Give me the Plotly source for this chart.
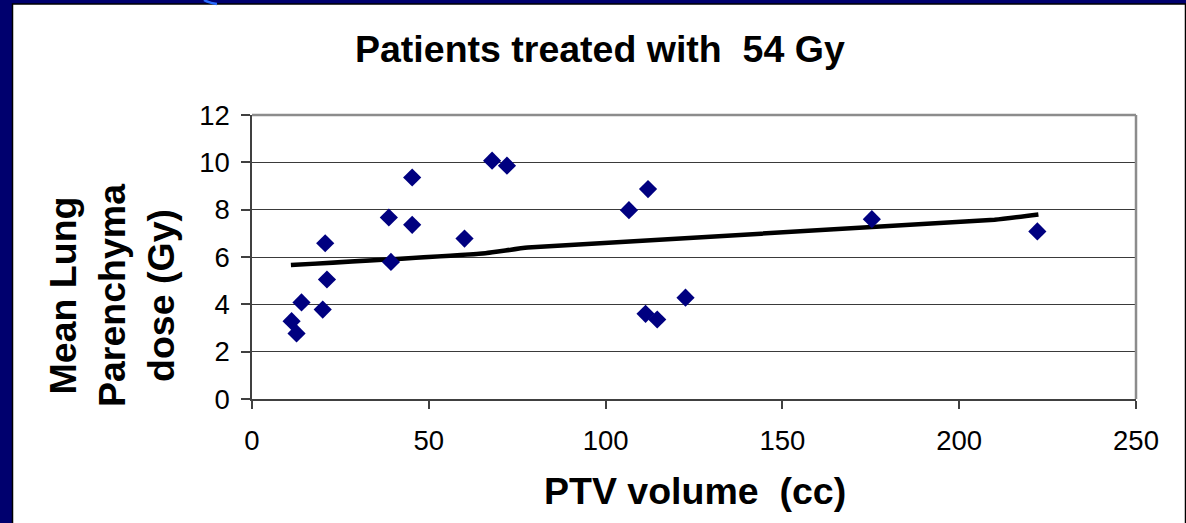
import plotly.graph_objects as go

# PTV volume (cc) and mean lung parenchyma dose (Gy) per patient
ptv_volume = [11.2, 12.6, 14.0, 20.0, 20.7, 21.2, 38.7, 39.3, 45.3, 45.3,
              60.1, 67.9, 72.1, 106.6, 112.0, 111.3, 114.6, 122.6, 175.3, 222.1]
mean_lung_dose = [3.29, 2.77, 4.08, 3.78, 6.58, 5.05, 7.67, 5.79, 9.36, 7.36,
                  6.78, 10.07, 9.86, 7.98, 8.87, 3.60, 3.36, 4.28, 7.60, 7.08]

# Trend line
trend_x = [11.0, 66.0, 78.0, 210.0, 222.4]
trend_y = [5.66, 6.16, 6.40, 7.57, 7.80]

x_ticks = [0, 50, 100, 150, 200, 250]
y_ticks = [0, 2, 4, 6, 8, 10, 12]

W, H = 1186, 523
L, R, T, B = 252, 50, 115, 124
PW, PH = W - L - R, H - T - B


def px(x):
    return (x - L) / PW


def py(y):
    return (H - B - y) / PH


FONT = "Arial, Liberation Sans, Helvetica, sans-serif"
NAVY_BG = "#00006e"

fig = go.Figure()

fig.add_trace(go.Scatter(
    x=trend_x, y=trend_y, mode="lines",
    line=dict(color="black", width=4.5, shape="spline", smoothing=0.4),
    hoverinfo="skip", showlegend=False,
))
fig.add_trace(go.Scatter(
    x=ptv_volume, y=mean_lung_dose, mode="markers",
    marker=dict(symbol="diamond", size=14, color="#000080",
                line=dict(width=0)),
    showlegend=False,
))

shapes = [
    # white slide panel with a thin dark edge
    dict(type="rect", xref="paper", yref="paper", layer="below",
         x0=px(12.5), x1=px(1185.5), y0=py(524), y1=py(4),
         fillcolor="white", line=dict(color="black", width=1.5)),
    # small blue arc at the top edge
    dict(type="path", xref="paper", yref="paper", layer="above",
         path=f"M {px(204)} {py(0)} Q {px(209)} {py(3)} {px(217)} {py(4)}",
         line=dict(color="#2a6bff", width=2.5)),
    # plot frame (grey top and right)
    dict(type="line", xref="paper", yref="paper", layer="above",
         x0=0, x1=1, y0=1, y1=1, line=dict(color="#8c8c8c", width=2.5)),
    dict(type="line", xref="paper", yref="paper", layer="above",
         x0=1, x1=1, y0=0, y1=1, line=dict(color="#8c8c8c", width=2.5)),
]

annotations = [
    dict(text="Patients treated with\u00a0\u00a054 Gy", xref="paper", yref="paper",
         x=px(600), y=py(49), xanchor="center", yanchor="middle",
         showarrow=False, font=dict(family=FONT, size=37.5, color="black")),
    dict(text="PTV volume\u00a0\u00a0(cc)", xref="paper", yref="paper",
         x=px(695), y=py(491), xanchor="center", yanchor="middle",
         showarrow=False, font=dict(family=FONT, size=37.5, color="black")),
    dict(text="Mean Lung<br>Parenchyma<br>dose (Gy)", xref="paper", yref="paper",
         x=px(112), y=py(295), xanchor="center", yanchor="middle",
         showarrow=False, textangle=-90,
         font=dict(family=FONT, size=37.5, color="black")),
]

fig.update_layout(
    width=W, height=H,
    margin=dict(l=L, r=R, t=T, b=B),
    paper_bgcolor=NAVY_BG,
    plot_bgcolor="rgba(0,0,0,0)",
    shapes=shapes,
    annotations=[dict(a, font=dict(a["font"], weight="bold")) for a in annotations],
    font=dict(family=FONT, color="black"),
)

fig.update_xaxes(
    range=[0, 250], tickvals=x_ticks, ticktext=[str(v) for v in x_ticks],
    ticks="outside", ticklen=8, tickwidth=1.5, tickcolor="#404040",
    showline=True, linecolor="#404040", linewidth=1.5,
    showgrid=False, zeroline=False,
    tickfont=dict(family=FONT, size=27.5, color="black"),
    ticklabelstandoff=8,
)
fig.update_yaxes(
    range=[0, 12], tickvals=y_ticks, ticktext=[str(v) for v in y_ticks],
    ticks="outside", ticklen=9, tickwidth=1.5, tickcolor="#404040",
    showline=True, linecolor="#404040", linewidth=1.5,
    showgrid=True, gridcolor="#3a3a3a", gridwidth=1,
    zeroline=False,
    tickfont=dict(family=FONT, size=27.5, color="black"),
    ticklabelstandoff=6,
)

fig.write_html("out.html")
